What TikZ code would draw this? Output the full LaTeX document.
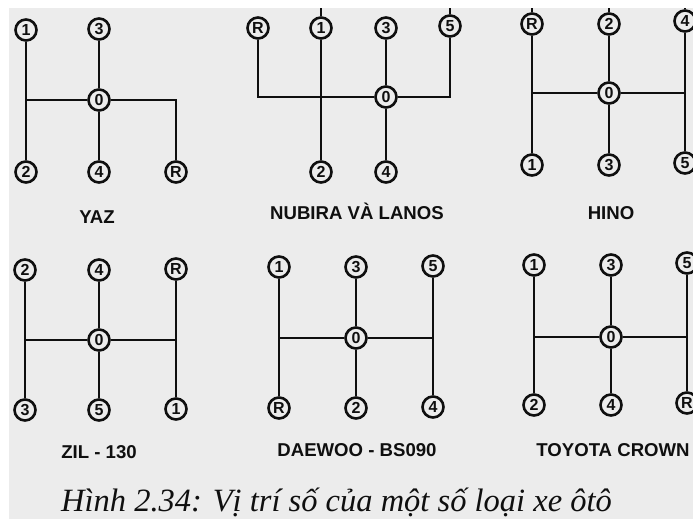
\documentclass[tikz,border=0pt]{standalone}
\usepackage{fontspec}
\setmainfont{Liberation Sans}
\newfontfamily\capfont{Liberation Serif}
\definecolor{bg}{RGB}{236,236,236}
\definecolor{ink}{RGB}{15,15,15}
\begin{document}
\begin{tikzpicture}[x=1pt,y=-1pt,
  gear/.style={circle,draw=ink,line width=2.6pt,minimum size=21pt,inner sep=0pt,fill=bg,
    font=\bfseries\fontsize{16}{16}\selectfont,text=ink},
  rod/.style={draw=ink,line width=2.9pt},
  lbl/.style={font=\bfseries\fontsize{18.6}{18.6}\selectfont,text=ink,inner sep=0pt},
]
\useasboundingbox (0,0) rectangle (693,519);
\fill[white] (0,0) rectangle (693,519);
\fill[bg] (9,8) rectangle (693,519);

% ---------- YAZ ----------
\node[gear] (a1) at (26,30) {1};
\node[gear] (a3) at (99,29) {3};
\node[gear] (a0) at (99,100) {0};
\node[gear] (a2) at (26,172) {2};
\node[gear] (a4) at (99,172) {4};
\node[gear] (aR) at (176,172) {R};
\coordinate (aL) at (26,100);
\coordinate (aJ) at (176,100);
\draw[rod] (a1) -- (a2);
\draw[rod] (aL) -- (a0);
\draw[rod] (a0) -- (aJ) -- (aR);
\draw[rod] (a3) -- (a0);
\draw[rod] (a0) -- (a4);
\node[lbl] (aT) at (97,217) {YAZ};

% ---------- NUBIRA ----------
\node[gear] (bR) at (258,28) {R};
\node[gear] (b1) at (321,28) {1};
\node[gear] (b3) at (386,28) {3};
\node[gear] (b5) at (450,26) {5};
\node[gear] (b0) at (386,97) {0};
\node[gear] (b2) at (321,172) {2};
\node[gear] (b4) at (386,172) {4};
\coordinate (bL) at (258,97);
\coordinate (bJ) at (450,97);
\coordinate (bt1) at (321,8);
\coordinate (bt5) at (450,8);
\draw[rod] (bR) -- (bL) -- (b0);
\draw[rod] (b0) -- (bJ) -- (b5);
\draw[rod] (b1) -- (b2);
\draw[rod] (b3) -- (b0);
\draw[rod] (b0) -- (b4);
\draw[rod] (b1) -- (bt1);
\draw[rod] (b5) -- (bt5);
\node[lbl] (bT) at (357,211) {NUBIRA VÀ LANOS};

% ---------- HINO ----------
\node[gear] (cR) at (532,24) {R};
\node[gear] (c2) at (609,24) {2};
\node[gear] (c4) at (685,21) {4};
\node[gear] (c0) at (609,93) {0};
\node[gear] (c1) at (532,165) {1};
\node[gear] (c3) at (609,165) {3};
\node[gear] (c5) at (685,163) {5};
\coordinate (cL) at (532,93);
\coordinate (cJ) at (685,93);
\coordinate (ctR) at (532,8);
\coordinate (ct2) at (609,8);
\coordinate (ct4) at (685,8);
\draw[rod] (cR) -- (c1);
\draw[rod] (c4) -- (c5);
\draw[rod] (cL) -- (c0);
\draw[rod] (c0) -- (cJ);
\draw[rod] (c2) -- (c0);
\draw[rod] (c0) -- (c3);
\draw[rod] (cR) -- (ctR);
\draw[rod] (c2) -- (ct2);
\draw[rod] (c4) -- (ct4);
\node[lbl] (cT) at (611,213) {HINO};

% ---------- ZIL ----------
\node[gear] (d2) at (25,270) {2};
\node[gear] (d4) at (99,270) {4};
\node[gear] (dR) at (176,269) {R};
\node[gear] (d0) at (99,340) {0};
\node[gear] (d3) at (25,410) {3};
\node[gear] (d5) at (99,410) {5};
\node[gear] (d1) at (176,409) {1};
\coordinate (dL) at (25,340);
\coordinate (dJ) at (176,340);
\draw[rod] (d2) -- (d3);
\draw[rod] (dR) -- (d1);
\draw[rod] (dL) -- (d0);
\draw[rod] (d0) -- (dJ);
\draw[rod] (d4) -- (d0);
\draw[rod] (d0) -- (d5);
\node[lbl] (dT) at (99,452) {ZIL - 130};

% ---------- DAEWOO ----------
\node[gear] (e1) at (279,267) {1};
\node[gear] (e3) at (356,267) {3};
\node[gear] (e5) at (433,266) {5};
\node[gear] (e0) at (356,338) {0};
\node[gear] (eR) at (279,408) {R};
\node[gear] (e2) at (356,408) {2};
\node[gear] (e4) at (433,407) {4};
\coordinate (eL) at (279,338);
\coordinate (eJ) at (433,338);
\draw[rod] (e1) -- (eR);
\draw[rod] (e5) -- (e4);
\draw[rod] (eL) -- (e0);
\draw[rod] (e0) -- (eJ);
\draw[rod] (e3) -- (e0);
\draw[rod] (e0) -- (e2);
\node[lbl] (eT) at (357,450) {DAEWOO - BS090};

% ---------- TOYOTA CROWN ----------
\node[gear] (f1) at (534,265) {1};
\node[gear] (f3) at (611,265) {3};
\node[gear] (f5) at (687,263) {5};
\node[gear] (f0) at (611,337) {0};
\node[gear] (f2) at (534,405) {2};
\node[gear] (f4) at (611,405) {4};
\node[gear] (fR) at (687,403) {R};
\coordinate (fL) at (534,337);
\coordinate (fJ) at (687,337);
\draw[rod] (f1) -- (f2);
\draw[rod] (f5) -- (fR);
\draw[rod] (fL) -- (f0);
\draw[rod] (f0) -- (fJ);
\draw[rod] (f3) -- (f0);
\draw[rod] (f0) -- (f4);
\node[lbl] (fT) at (613,450) {TOYOTA CROWN};

% ---------- caption ----------
\node[anchor=base west,inner sep=0pt,font=\capfont\itshape\fontsize{32.5}{32.5}\selectfont,text=ink]
  (cap) at (61,511) {Hình 2.34: Vị trí số của một số loại xe ôtô};
\end{tikzpicture}
\end{document}
